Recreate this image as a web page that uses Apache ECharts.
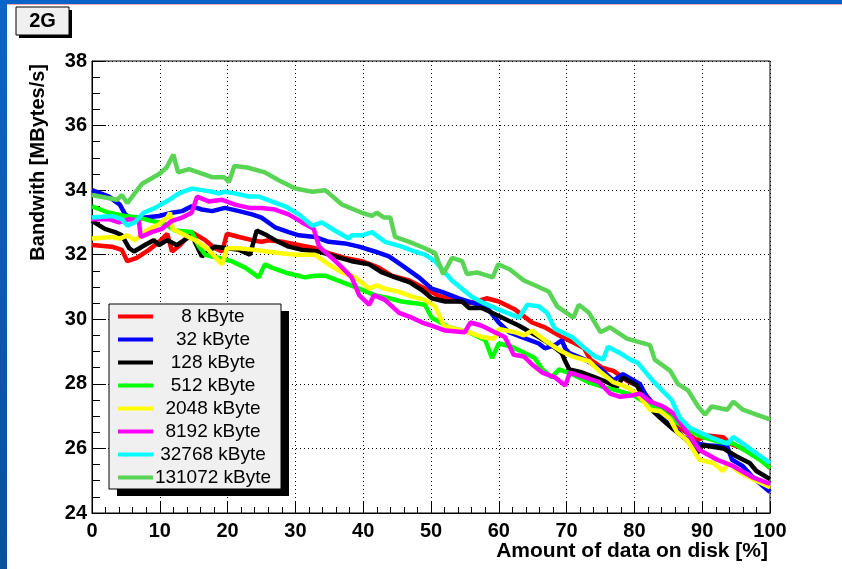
<html>
<head>
    <meta charset="utf-8">
    <title>2G bandwidth</title>
    <script src="https://cdn.jsdelivr.net/npm/echarts@6/dist/echarts.min.js"></script>
</head>
<body style="margin:0;background:#fff;">
    <div id="main" style="width: 842px;height:569px;"></div>
    <script type="text/javascript">
        // block sizes and line colours
        var names = ['8 kByte', '32 kByte', '128 kByte', '512 kByte', '2048 kByte', '8192 kByte', '32768 kByte', '131072 kByte'];
        var colors = ['#ff0000', '#0000ff', '#000000', '#00ff00', '#ffff00', '#ff00ff', '#00ffff', '#59d454'];

        // [amount of data on disk %, bandwidth MB/s]
        var kb8 = [[0,32.3],[2.9,32.25],[4.4,32.15],[5.2,31.8],[6.6,31.9],[8.4,32.15],[9.9,32.4],[11.1,32.65],[11.8,32.1],[13,32.3],[14.7,32.7],[16.7,32.45],[18.1,32.2],[19.2,32.1],[19.9,32.65],[21.7,32.55],[23.6,32.45],[25,32.4],[26.1,32.45],[28,32.4],[30.5,32.3],[32.9,32.2],[34.9,32.05],[37.3,31.9],[39.8,31.8],[42.3,31.6],[44.2,31.35],[46.8,31.2],[49.1,30.95],[50.9,30.75],[53,30.6],[55.8,30.5],[58.2,30.65],[60,30.55],[62.4,30.3],[64.9,29.9],[66.8,29.75],[68.9,29.5],[70.8,29.3],[72.6,29.1],[73.5,28.75],[75.2,28.5],[76.9,28.4],[78.9,28.1],[80.8,27.9],[82.7,27.4],[84.8,27.1],[86.7,26.65],[89.2,26.25],[90.7,26.4],[93.1,26.35],[94.1,26.15],[96.6,25.95],[98.5,25.7],[100,25.4]];
        var kb32 = [[0,34.0],[2.5,33.8],[4.1,33.55],[4.9,33.25],[5.9,33.1],[7.8,33.15],[9.9,33.2],[11.8,33.3],[13.3,33.35],[14.7,33.5],[16.2,33.4],[17.7,33.35],[19.6,33.45],[21.7,33.35],[23.6,33.25],[25,33.15],[27,32.85],[29,32.7],[30.5,32.6],[32.9,32.55],[34.9,32.4],[37.3,32.35],[39.4,32.25],[41.7,32.1],[43.8,31.95],[46.2,31.6],[48.2,31.3],[50.1,30.95],[51.6,30.85],[54.1,30.65],[55.6,30.55],[58.3,30.35],[60,29.9],[61.5,29.6],[63.4,29.45],[65.9,29.25],[66.8,29.1],[68.3,29.2],[69.3,29.35],[69.8,29.1],[70.4,28.95],[72.7,28.75],[75.1,28.45],[76.9,28.1],[78.3,28.3],[80.8,28.0],[81.8,27.6],[83.5,27.2],[85.3,26.8],[87.2,26.35],[89.2,26.15],[90.7,26.1],[93.7,26.05],[94.4,25.65],[96,25.45],[97.5,25.1],[100,24.65]];
        var kb128 = [[0,33.05],[1.9,32.8],[3.4,32.7],[4.4,32.6],[5.5,32.2],[6.2,32.1],[7.8,32.3],[9.1,32.45],[9.9,32.3],[11.1,32.45],[12.5,32.3],[14.7,32.6],[16.2,31.95],[18.1,32.25],[20,32.2],[21.7,32.15],[23.3,32.0],[24.3,32.75],[25.8,32.6],[27,32.45],[29,32.25],[31,32.15],[33.5,32.1],[35.8,31.95],[38.3,31.8],[40.9,31.7],[42.8,31.45],[44.7,31.3],[46.8,31.15],[48.7,30.9],[50.1,30.65],[52.1,30.55],[54.6,30.55],[55.6,30.35],[57.5,30.35],[60,30.1],[63,29.8],[65.9,29.45],[67.8,29.2],[69.3,28.95],[69.8,28.7],[70.4,28.45],[72.3,28.35],[74.2,28.2],[76,28.05],[77.4,27.9],[78.3,28.2],[80.4,27.95],[81.8,27.35],[83.8,26.95],[85.7,26.6],[87.8,26.25],[89.2,25.85],[90.1,26.1],[93.1,26.0],[95.1,25.75],[97,25.55],[98,25.3],[100,25.05]];
        var kb512 = [[0,33.5],[2.5,33.3],[4.9,33.2],[6.9,33.15],[8.8,33.05],[10.8,32.95],[12.2,32.75],[14.7,32.7],[15.8,32.25],[16.7,32.0],[18.7,31.9],[20.6,31.8],[22.6,31.6],[24.6,31.3],[25.5,31.7],[26.5,31.6],[28.5,31.45],[31.4,31.3],[32.9,31.35],[34.4,31.35],[36.9,31.15],[39.4,30.95],[41.7,30.75],[43.8,30.65],[45.7,30.55],[47.6,30.5],[49.1,30.45],[50.1,30.05],[52.7,29.75],[55.6,29.6],[58,29.35],[59,28.8],[60,29.25],[61.9,29.15],[63.9,28.95],[65.3,28.8],[66.4,28.45],[67.8,28.2],[68.9,28.45],[70.8,28.3],[73.3,28.05],[75.5,27.9],[77.4,27.8],[79.8,27.65],[81.8,27.4],[83.8,27.2],[86.3,26.8],[88.2,26.55],[90.1,26.35],[92.6,26.2],[94.6,26.15],[96.6,25.9],[98.5,25.65],[100,25.4]];
        var kb2048 = [[0,32.5],[2.9,32.55],[4.1,32.5],[5.2,32.6],[6.3,32.45],[8.1,32.75],[9.9,32.95],[11.1,33.15],[11.5,33.3],[11.9,32.8],[13.3,32.65],[15.2,32.45],[17.2,32.15],[19.2,31.7],[19.9,32.2],[21.7,32.2],[24,32.15],[25.8,32.1],[27.6,32.05],[30,32.0],[32.9,32.0],[34.9,31.7],[36.9,31.45],[38.8,31.3],[40.9,30.95],[42,31.05],[43.2,30.95],[45.3,30.85],[47.2,30.7],[49.1,30.6],[50.6,30.4],[51.9,29.8],[53.5,29.7],[55.6,29.6],[57.5,29.45],[59.3,29.4],[60,29.7],[62.4,29.6],[63.7,29.5],[64.9,29.65],[66.8,29.35],[68.9,29.05],[70.8,28.85],[73.3,28.7],[75.1,28.35],[76.9,28.05],[78.9,27.9],[80.4,27.7],[82.3,27.2],[83.8,27.15],[85.3,26.9],[86.3,26.5],[87.8,26.25],[89.6,25.65],[91.6,25.55],[93.1,25.3],[93.8,25.55],[95.6,25.25],[97.5,25.05],[100,24.8]];
        var kb8192 = [[0,33.1],[2.5,33.1],[4,33.0],[5.5,33.1],[6.9,33.05],[7.2,32.55],[8.8,32.7],[10.3,32.8],[11.8,33.05],[13.3,33.15],[14.7,33.3],[15.5,33.8],[17.2,33.65],[19.2,33.7],[21.1,33.55],[23.2,33.45],[25,33.45],[27,33.4],[29,33.25],[31,33.0],[32.7,32.8],[33.5,32.25],[35.4,31.9],[36.9,31.6],[38.3,31.3],[39.4,30.75],[40.9,30.45],[41.6,30.75],[43.2,30.6],[45.3,30.2],[47.2,30.05],[48.7,29.9],[50.1,29.8],[52.1,29.65],[55,29.6],[55.8,29.9],[57.5,29.8],[59.4,29.6],[60.9,29.45],[62.2,28.9],[63.7,28.85],[64.9,28.6],[66.4,28.35],[68.3,28.2],[69.8,27.95],[70.5,28.35],[72.7,28.2],[74.8,28.05],[76.4,27.7],[77.9,27.6],[79.8,27.65],[80.8,27.7],[82.3,27.45],[84.2,27.3],[85.7,27.1],[87.8,26.5],[89.6,25.95],[92.2,25.65],[94.6,25.45],[97.5,25.1],[100,24.9]];
        var kb32768 = [[0,33.15],[2.9,33.2],[4.4,33.1],[5.2,32.9],[6.3,33.0],[7.6,33.3],[9.3,33.45],[11.4,33.7],[12.8,33.9],[14.7,34.05],[16.2,34.0],[17.7,33.95],[18.7,33.9],[19.5,33.95],[21.1,33.9],[23.2,33.8],[24.6,33.8],[26.5,33.65],[28.5,33.5],[30.5,33.25],[32.5,32.9],[33.9,33.0],[35.8,32.75],[37.9,32.5],[38.3,32.6],[39.8,32.6],[41.3,32.7],[43.2,32.4],[45.7,32.25],[47.6,32.1],[49.1,32.0],[50.6,31.8],[53.1,31.2],[56,30.7],[57.8,30.5],[60,30.3],[63,30.05],[64.2,30.45],[65.9,30.4],[67.1,30.2],[68.3,29.7],[70.8,29.45],[72.7,29.1],[74.2,28.85],[75.4,28.75],[76.1,29.15],[77.9,28.95],[79.4,28.75],[80.5,28.65],[82.7,28.1],[85.5,27.5],[86.7,26.95],[88.1,26.65],[89.6,26.5],[91.2,26.35],[93.7,26.15],[94.6,26.35],[96,26.15],[98,25.85],[100,25.55]];
        var kb131072 = [[0,33.85],[3.7,33.7],[4.4,33.85],[5.2,33.6],[7.4,34.2],[9.9,34.5],[11,34.7],[12,35.1],[12.7,34.55],[14.3,34.65],[17.7,34.4],[19.5,34.4],[20.2,34.25],[21,34.75],[22.9,34.7],[25.5,34.55],[27.6,34.3],[30,34.05],[32.5,33.95],[34.4,34.0],[36.9,33.55],[39.8,33.3],[41.3,33.2],[42,33.3],[43.1,33.15],[44,33.15],[44.7,32.55],[46.8,32.4],[49.1,32.2],[50.6,32.05],[51.8,31.4],[53.1,31.9],[54.6,31.8],[55.3,31.4],[56.8,31.45],[59.1,31.3],[59.9,31.7],[61.6,31.55],[63.7,31.2],[65.9,31.0],[67.4,30.85],[68.6,30.4],[71,30.05],[71.8,30.45],[73.3,30.2],[75,29.6],[76.4,29.75],[78.9,29.4],[82.3,29.2],[83,28.75],[85.3,28.4],[86.4,28.0],[87.9,27.8],[89.4,27.3],[90.4,27.05],[91.4,27.3],[93.7,27.2],[94.6,27.45],[96,27.2],[98,27.05],[100,26.9]];
        var allData = [kb8, kb32, kb128, kb512, kb2048, kb8192, kb32768, kb131072];

        var font = '"Liberation Sans", Arial, sans-serif';
        var myChart = echarts.init(document.getElementById('main'));

        var series = [];
        for (var i = 0; i < names.length; i++) {
            series.push({
                name: names[i],
                type: 'line',
                data: allData[i],
                symbol: 'none',
                color: colors[i],
                lineStyle: { width: 4.5, color: colors[i] },
                z: 2 + i
            });
        }

        var option = {
            animation: false,
            backgroundColor: '#ffffff',
            grid: {
                left: 92, top: 61, width: 678, height: 452,
                show: true, borderColor: '#000', borderWidth: 1
            },
            xAxis: {
                type: 'value', min: 0, max: 100, interval: 10,
                axisLine: { show: true, lineStyle: { color: '#000', width: 1 } },
                axisTick: { show: true, inside: true, length: 12, lineStyle: { color: '#000' } },
                minorTick: { show: true, splitNumber: 5, length: 6, lineStyle: { color: '#000' } },
                splitLine: { show: true, lineStyle: { color: '#000', type: [1, 3], width: 1 } },
                axisLabel: { color: '#000', fontSize: 20, fontWeight: 'bold', fontFamily: font, margin: 8 }
            },
            yAxis: {
                type: 'value', min: 24, max: 38, interval: 2,
                axisLine: { show: true, lineStyle: { color: '#000', width: 1 } },
                axisTick: { show: true, inside: true, length: 14, lineStyle: { color: '#000' } },
                minorTick: { show: true, splitNumber: 4, length: 8, lineStyle: { color: '#000' } },
                splitLine: { show: true, lineStyle: { color: '#000', type: [1, 3], width: 1 } },
                axisLabel: { color: '#000', fontSize: 20, fontWeight: 'bold', fontFamily: font, margin: 5 }
            },
            legend: {
                orient: 'vertical',
                left: 113, top: 302,
                icon: 'rect',
                itemWidth: 35, itemHeight: 4, itemGap: 4,
                z: 20,
                data: names,
                formatter: function (n) { return '{a|' + n + '}'; },
                textStyle: {
                    color: '#000', fontFamily: font, fontSize: 19, lineHeight: 19,
                    rich: { a: { width: 110, align: 'center', fontSize: 19, fontFamily: font, color: '#000' } }
                }
            },
            graphic: [
                { type: 'rect', z: 0, shape: { x: 0, y: 0, width: 842, height: 4 }, style: { fill: '#0a64c8' } },
                { type: 'rect', z: 0, shape: { x: 0, y: 4, width: 842, height: 1 }, style: { fill: '#f0a8a8' } },
                { type: 'rect', z: 0, shape: { x: 0, y: 0, width: 7, height: 569 },
                  style: { fill: new echarts.graphic.LinearGradient(0, 0, 0, 1, [{ offset: 0, color: '#0a64c8' }, { offset: 1, color: '#0b4fa0' }]) } },
                // 2G label box
                { type: 'rect', z: 18, shape: { x: 19, y: 10, width: 53, height: 28 }, style: { fill: '#000' } },
                { type: 'rect', z: 19, shape: { x: 16, y: 7, width: 53, height: 28 }, style: { fill: '#f0f0f0', stroke: '#000', lineWidth: 1 } },
                { type: 'text', z: 20, x: 42.5, y: 21, style: { text: '2G', fill: '#000', font: 'bold 20px ' + font, align: 'center', verticalAlign: 'middle' } },
                // legend box
                { type: 'rect', z: 18, shape: { x: 117, y: 311, width: 172, height: 185 }, style: { fill: '#000' } },
                { type: 'rect', z: 19, shape: { x: 109, y: 304, width: 172, height: 185 }, style: { fill: '#f0f0f0', stroke: '#000', lineWidth: 1 } },
                // axis titles
                { type: 'text', z: 20, x: 38, y: 64, rotation: Math.PI / 2,
                  style: { text: 'Bandwith [MBytes/s]', fill: '#000', font: 'bold 20px ' + font, align: 'right', verticalAlign: 'middle' } },
                { type: 'text', z: 20, x: 768, y: 551,
                  style: { text: 'Amount of data on disk [%]', fill: '#000', font: 'bold 21px ' + font, align: 'right', verticalAlign: 'middle' } }
            ],
            series: series
        };

        myChart.setOption(option);
    </script>
</body>
</html>
